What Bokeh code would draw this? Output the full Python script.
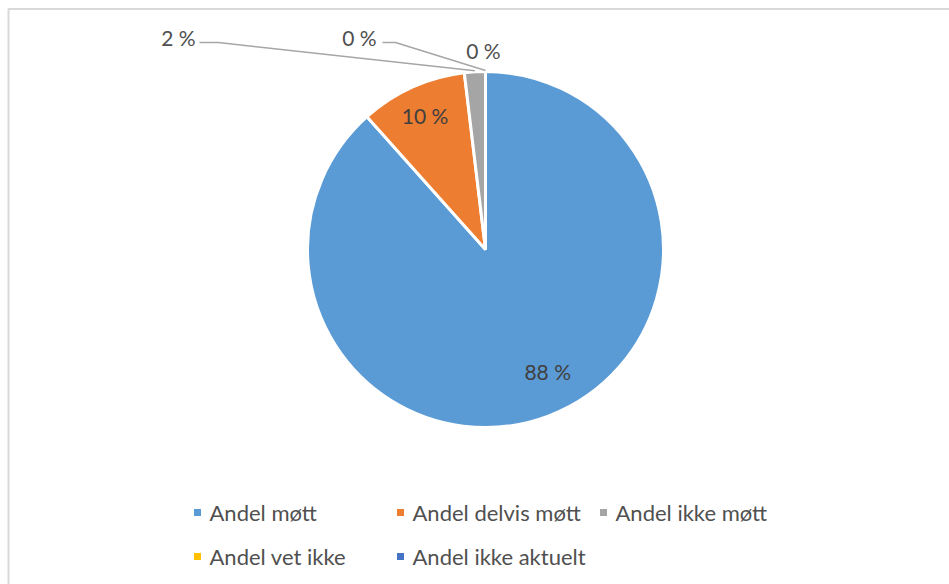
import math
from bokeh.plotting import figure
from bokeh.models import ColumnDataSource
from bokeh.core.properties import value
from bokeh.embed import file_html
from bokeh.resources import INLINE

# ---- data ----
categories = ["Andel møtt", "Andel delvis møtt", "Andel ikke møtt", "Andel vet ikke", "Andel ikke aktuelt"]
shares = [88.4, 9.7, 1.9, 0.0, 0.0]
colors = ["#5B9BD5", "#ED7D31", "#A5A5A5", "#FFC000", "#4472C4"]

# ---- layout ----
W, H = 949, 584
CX, CY, R = 485, 249, 178          # pie centre / radius in pixels (y from top)
FONT = "Lato"
def Y(py):
    return H - py

p = figure(width=W, height=H, x_range=(0, W), y_range=(0, H), min_border=0,
           toolbar_location=None, output_backend="svg")
p.axis.visible = False
p.xgrid.visible = False
p.ygrid.visible = False
p.outline_line_color = None
p.background_fill_color = "white"
p.border_fill_color = "white"

# chart-area border (light gray)
p.quad(left=[8], right=[W + 20], top=[Y(8.5)], bottom=[-20], fill_color=None,
       line_color="#D9D9D9", line_width=2)

# ---- pie ----
total = sum(shares)
cum = [0.0]
for s in shares:
    cum.append(cum[-1] + s / total)

def ang(frac):
    return math.pi / 2 - 2 * math.pi * frac

idx = [i for i, s in enumerate(shares) if s > 0]
src = ColumnDataSource(dict(
    start=[ang(cum[i]) for i in idx],
    end=[ang(cum[i + 1]) for i in idx],
    color=[colors[i] for i in idx],
))
p.wedge(x=CX, y=Y(CY), radius=R, start_angle="start", end_angle="end",
        direction="clock", fill_color="color", line_color="white", line_width=3,
        source=src)

def pt(frac, r):
    a = ang(frac)
    return CX + r * math.cos(a), Y(CY) + r * math.sin(a)

labels = ["%d %%" % round(s) for s in shares]

# inside labels (slices 0 and 1)
inside_r = [137, 147]
inside_shift = [-0.017, 0.0]       # small angular nudge (fraction of turn)
for i in range(2):
    mid = (cum[i] + cum[i + 1]) / 2 + inside_shift[i]
    x, y = pt(mid, inside_r[i])
    p.text(x=[x], y=[y], text=[labels[i]], text_font=value(FONT), text_font_size="21px",
           text_color="#404040", text_align="center", text_baseline="middle")

# outside labels with leader lines (slices 2, 3, 4)
out_text_pos = [(178, 37), (359, 37), (483, 50)]
leader_start = [[(199, 42), (218, 42)], [(382, 42), (395, 42)], None]
for k, i in enumerate([2, 3, 4]):
    tx, ty = out_text_pos[k]
    p.text(x=[tx], y=[Y(ty)], text=[labels[i]], text_font=value(FONT), text_font_size="21px",
           text_color="#505050", text_align="center", text_baseline="middle")
    if leader_start[k] is not None:
        mid = (cum[i] + cum[i + 1]) / 2
        ex, ey = pt(mid, R + 1)
        xs = [a for a, b in leader_start[k]] + [ex]
        ys = [Y(b) for a, b in leader_start[k]] + [ey]
        p.line(x=xs, y=ys, line_color="#A6A6A6", line_width=1.5)

# ---- legend ----
leg_x = [197, 400, 603, 197, 400]
leg_y = [512, 512, 512, 556, 556]
p.rect(x=leg_x, y=[Y(v) for v in leg_y], width=7, height=7, fill_color=colors,
       line_color=None)
p.text(x=[v + 12 for v in leg_x], y=[Y(v) for v in leg_y], text=categories,
       text_font=value(FONT), text_font_size="22px", text_color="#505050",
       text_align="left", text_baseline="middle")

open("out.html", "w").write(file_html(p, INLINE))
